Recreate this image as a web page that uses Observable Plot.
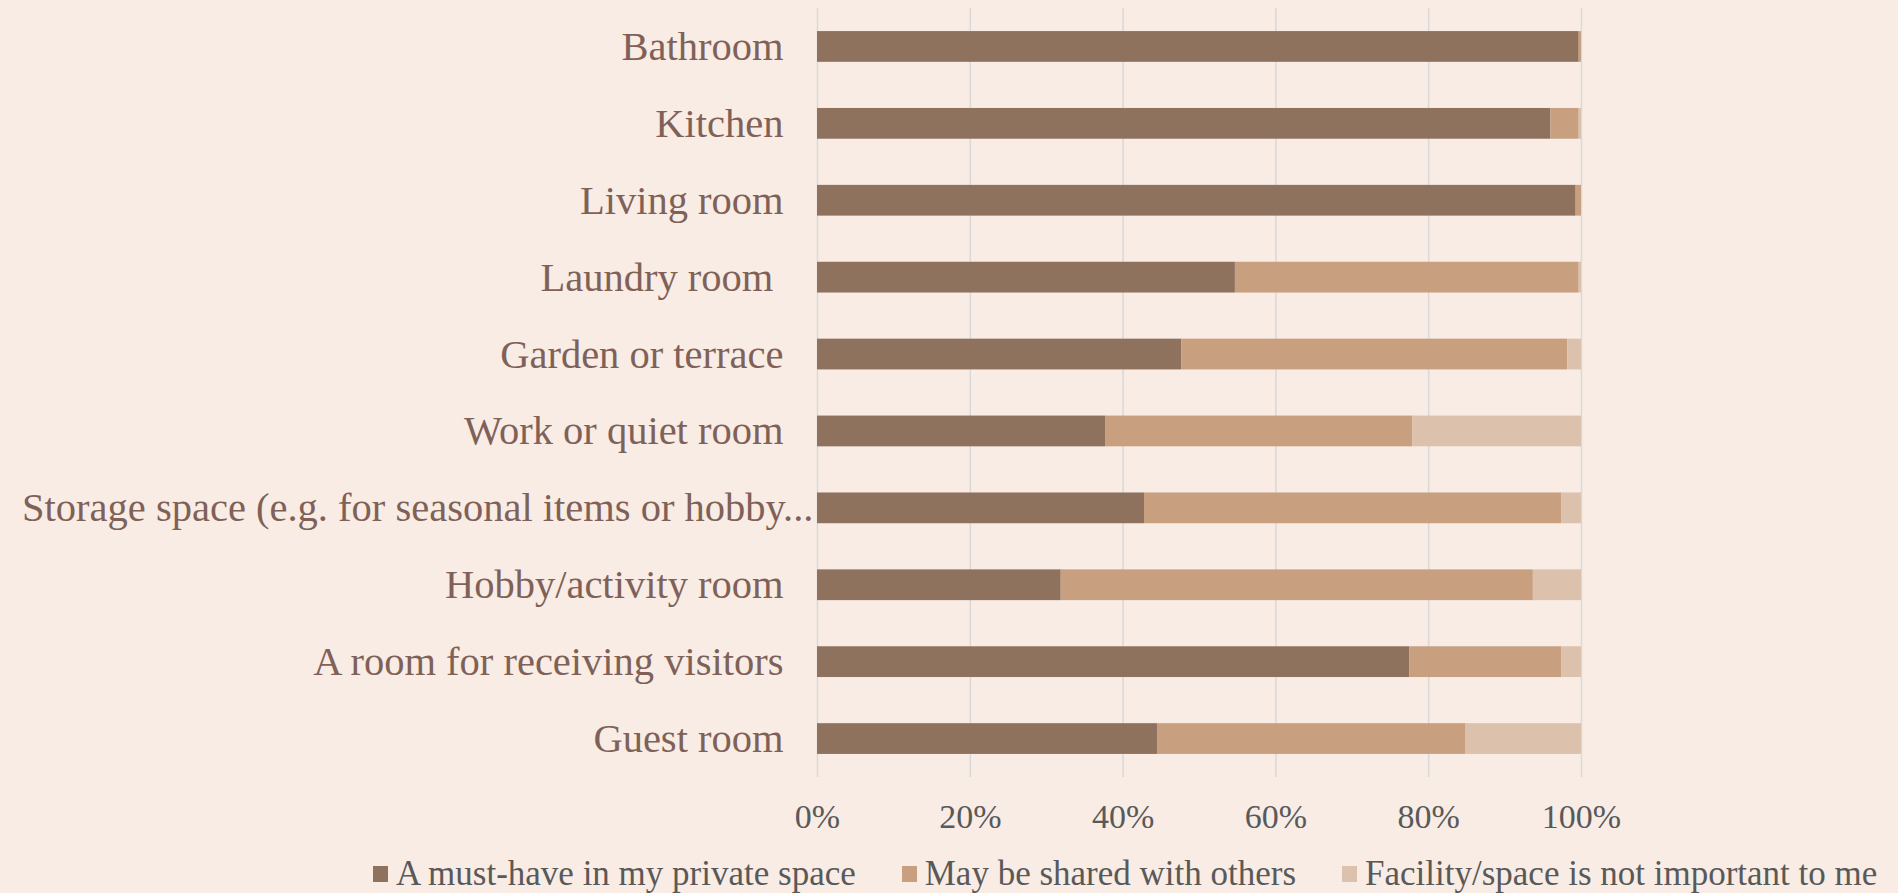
<!DOCTYPE html>
<html>
<head>
<meta charset="utf-8">
<script src="https://cdn.jsdelivr.net/npm/d3@7"></script>
<script src="https://cdn.jsdelivr.net/npm/@observablehq/plot@0.6"></script>
<style>
  html, body { margin: 0; padding: 0; background: #F8ECE5; }
  #chart { position: relative; width: 1898px; height: 893px; overflow: hidden; }
  #legend { position: absolute; left: 373px; top: 859px; display: flex; align-items: center;
    font-family: "Liberation Serif", serif; font-size: 35px; color: #595959; white-space: nowrap; line-height: 30px; }
  .item { display: flex; align-items: center; margin-right: 46px; }
  .sw { width: 15px; height: 16px; margin-right: 8px; }
</style>
</head>
<body>
<div id="chart"><div id="plot"></div><div id="legend"></div></div>
<script>
const categories = ["Bathroom", "Kitchen", "Living room", "Laundry room ", "Garden or terrace", "Work or quiet room", "Storage space (e.g. for seasonal items or hobby...", "Hobby/activity room", "A room for receiving visitors", "Guest room"];
const series = ["A must-have in my private space", "May be shared with others", "Facility/space is not important to me"];
const mustHave = [99.7, 96.0, 99.3, 54.7, 47.7, 37.7, 42.8, 31.9, 77.5, 44.5];
const shared = [0.3, 3.7, 0.7, 45.0, 50.5, 40.2, 54.6, 61.8, 19.9, 40.4];
const notImportant = [0, 0.3, 0, 0.3, 1.8, 22.1, 2.6, 6.3, 2.6, 15.1];
const xTicks = [0, 20, 40, 60, 80, 100];
const colors = ["#8F725E", "#C8A080", "#DCC2AC"];

const values = [mustHave, shared, notImportant];
const data = [];
series.forEach((s, si) => categories.forEach((c, ci) => data.push({category: c, series: s, value: values[si][ci]})));

const longLabel = categories[6];
const plot = Plot.plot({
  width: 1898,
  height: 850,
  marginLeft: 817,
  marginRight: 317,
  marginTop: 8,
  marginBottom: 73,
  style: {background: "transparent", fontFamily: "Liberation Serif, serif", color: "#595959"},
  x: {domain: [0, 100]},
  y: {domain: categories, paddingInner: 0.6, paddingOuter: 0.3, round: false},
  color: {domain: series, range: colors},
  marks: [
    Plot.gridX(xTicks, {stroke: "#D9D9D9", strokeOpacity: 1, strokeWidth: 1.5}),
    Plot.barX(data, {x: "value", y: "category", fill: "series", order: series}),
    Plot.axisX(xTicks, {tickSize: 0, tickPadding: 26, fontSize: 34, fill: "#595959", tickFormat: d => d + "%", label: null}),
    Plot.axisY(categories.filter(c => c !== longLabel), {tickSize: 0, tickPadding: 34, fontSize: 40.5, fill: "#7F6157", label: null}),
    Plot.axisY([longLabel], {tickSize: 0, tickPadding: 4, fontSize: 40.5, fill: "#7F6157", label: null})
  ]
});
document.getElementById("plot").appendChild(plot);

const legend = document.getElementById("legend");
series.forEach((s, i) => {
  const item = document.createElement("div");
  item.className = "item";
  const sw = document.createElement("span");
  sw.className = "sw";
  sw.style.background = colors[i];
  const t = document.createElement("span");
  t.textContent = s;
  item.appendChild(sw); item.appendChild(t);
  legend.appendChild(item);
});
</script>
</body>
</html>
